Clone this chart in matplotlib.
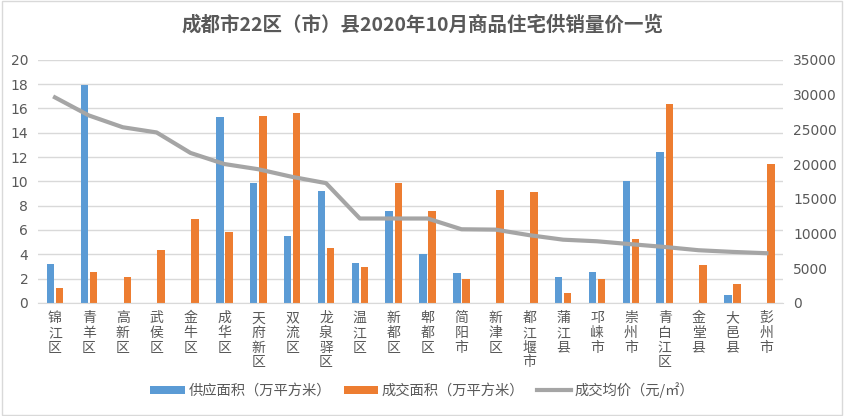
import matplotlib
matplotlib.use("Agg")
import matplotlib.pyplot as plt
import numpy as np
from matplotlib.patches import Rectangle

plt.rcParams["font.family"] = ["Noto Sans CJK SC", "DejaVu Sans"]

districts = ["锦江区", "青羊区", "高新区", "武侯区", "金牛区", "成华区", "天府新区",
             "双流区", "龙泉驿区", "温江区", "新都区", "郫都区", "简阳市", "新津区",
             "都江堰市", "蒲江县", "邛崃市", "崇州市", "青白江区", "金堂县", "大邑县", "彭州市"]
supply = [3.23, 17.9, 0, 0, 0, 15.34, 9.84, 5.53, 9.23, 3.32, 7.59, 4.0, 2.49, 0,
          0, 2.1, 2.58, 10.05, 12.44, 0, 0.68, 0]
deal = [1.26, 2.52, 2.1, 4.33, 6.93, 5.81, 15.42, 15.67, 4.49, 2.99, 9.89, 7.59, 1.95,
        9.32, 9.15, 0.85, 2.0, 5.29, 16.41, 3.15, 1.59, 11.45]
price = [29600, 27000, 25300, 24550, 21600, 20000, 19250, 18150, 17250, 12150, 12150,
         12150, 10600, 10550, 9750, 9100, 8870, 8450, 8050, 7580, 7340, 7150]

blue = "#5B9BD5"
orange = "#ED7D31"
grey = "#A5A5A5"
text_c = "#595959"

fig = plt.figure(figsize=(8.45, 4.16), dpi=100)
fig.patches.append(Rectangle((0.002, 0.003), 0.995, 0.994, transform=fig.transFigure,
                             fill=False, edgecolor="#D9D9D9", linewidth=1))
ax = fig.add_axes([0.045, 0.272, 0.882, 0.584])
ax2 = ax.twinx()

x = np.arange(len(districts))
w = 0.22
ax.bar(x - 0.135, supply, width=w, color=blue, label="供应面积（万平方米）", zorder=2)
ax.bar(x + 0.135, deal, width=w, color=orange, label="成交面积（万平方米）", zorder=2)
ax2.plot(x, price, color=grey, linewidth=3, label="成交均价（元/㎡）", zorder=3)

ax.set_xlim(-0.5, len(districts) - 0.5)
ax.set_ylim(0, 20)
ax.set_yticks(range(0, 21, 2))
ax2.set_ylim(0, 35000)
ax2.set_yticks(range(0, 35001, 5000))
ax.grid(axis="y", color="#D9D9D9", linewidth=1, zorder=0)
ax.set_axisbelow(True)

ax.set_xticks(x)
ax.set_xticklabels(["\n".join(d) for d in districts], fontsize=10, color=text_c,
                   linespacing=1.06, va="top")
ax.tick_params(axis="x", length=0, pad=6)
ax.tick_params(axis="y", length=0, labelsize=10, labelcolor=text_c, pad=7)
ax2.tick_params(axis="y", length=0, labelsize=10, labelcolor=text_c, pad=7)
for lab in ax.get_yticklabels() + ax2.get_yticklabels():
    lab.set_family("DejaVu Sans")

for a in (ax, ax2):
    for s in a.spines.values():
        s.set_visible(False)
ax.spines["bottom"].set_visible(True)
ax.spines["bottom"].set_color("#D9D9D9")

fig.text(0.5, 0.94, "成都市22区（市）县2020年10月商品住宅供销量价一览", ha="center",
         va="center", fontsize=14, fontweight="bold", color=text_c)

h1, l1 = ax.get_legend_handles_labels()
h2, l2 = ax2.get_legend_handles_labels()
fig.legend(h1 + h2, l1 + l2, loc="center", bbox_to_anchor=(0.5, 0.0625), ncol=3,
           frameon=False, fontsize=10.3, labelcolor=text_c, handlelength=2.4,
           handleheight=0.5, columnspacing=0.9, handletextpad=0.25)

fig.savefig("out.png", dpi=100)
